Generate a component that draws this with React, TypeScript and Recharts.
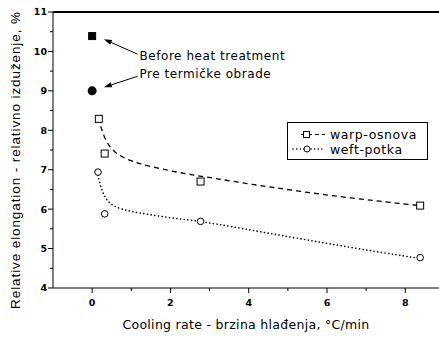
import React from 'react';
import {
  ComposedChart, Line, Scatter, XAxis, YAxis, ReferenceLine, ReferenceDot, Legend,
} from 'recharts';

// Measured points
const warpRate = [0.17, 0.32, 2.77, 8.38];
const warpElong = [8.29, 7.41, 6.7, 6.09];
const weftRate = [0.15, 0.32, 2.77, 8.38];
const weftElong = [6.94, 5.88, 5.69, 4.77];

// Before heat treatment points
const beforeWarpRate = [0];
const beforeWarpElong = [10.39];
const beforeWeftRate = [0];
const beforeWeftElong = [9.0];

// Fitted curves
const warpFitRate = [0.22, 0.3, 0.4, 0.55, 0.75, 1.0, 1.4, 2.0, 2.6, 3.2, 4.0, 5.3, 6.6, 7.9, 8.38];
const warpFitElong = [8.1, 7.85, 7.65, 7.47, 7.33, 7.22, 7.1, 6.97, 6.86, 6.77, 6.64, 6.45, 6.28, 6.14, 6.09];
const weftFitRate = [0.15, 0.2, 0.26, 0.33, 0.42, 0.55, 0.75, 1.0, 1.4, 2.0, 2.6, 3.2, 4.0, 5.3, 6.6, 7.9, 8.38];
const weftFitElong = [6.86, 6.64, 6.45, 6.3, 6.18, 6.08, 6.0, 5.94, 5.87, 5.78, 5.71, 5.62, 5.48, 5.25, 5.03, 4.82, 4.75];

// Axis ticks
const xTicks = [0, 1, 2, 3, 4, 5, 6, 7, 8, 9];
const yTicks = [4, 4.5, 5, 5.5, 6, 6.5, 7, 7.5, 8, 8.5, 9, 9.5, 10, 10.5, 11];

// Annotations
const noteTexts = ['Before heat treatment', 'Pre termičke obrade'];
const noteX = [1.21, 1.21];
const noteY = [9.9, 9.44];
const arrowFromX = [1.16, 1.16];
const arrowFromY = [9.93, 9.37];
const arrowToX = [0.3, 0.3];
const arrowToY = [10.31, 9.09];

const legendNames = ['warp-osnova', 'weft-potka'];

const zip = (xs: number[], ys: number[]) => xs.map((x, i) => ({ x, y: ys[i] }));

const warpData = zip(warpRate, warpElong);
const weftData = zip(weftRate, weftElong);
const beforeWarp = zip(beforeWarpRate, beforeWarpElong);
const beforeWeft = zip(beforeWeftRate, beforeWeftElong);
const warpFit = zip(warpFitRate, warpFitElong);
const weftFit = zip(weftFitRate, weftFitElong);

const TICK_FONT = '"DejaVu Sans", sans-serif';
const TEXT_FONT = '"DejaVu Sans", sans-serif';

const OpenSquare = (p: any) => (
  <rect x={p.cx - 3.5} y={p.cy - 3.5} width={7} height={7} fill="#fff" stroke="#000" strokeWidth={1} />
);
const OpenCircle = (p: any) => (
  <circle cx={p.cx} cy={p.cy} r={3.3} fill="#fff" stroke="#000" strokeWidth={1} />
);
const FilledSquare = (p: any) => (
  <rect x={p.cx - 3.5} y={p.cy - 3.5} width={7} height={7} fill="#000" stroke="#000" />
);
const FilledCircle = (p: any) => <circle cx={p.cx} cy={p.cy} r={4.5} fill="#000" />;

const YTick = (p: any) => {
  const v = p.payload.value;
  const major = Number.isInteger(v);
  return (
    <g>
      <line x1={p.x} x2={p.x - (major ? 5 : 3)} y1={p.y} y2={p.y} stroke="#000" strokeWidth={1} />
      {major && (
        <text x={p.x - 6} y={p.y} dy="0.36em" textAnchor="end" fontFamily={TICK_FONT} fontSize={9.5} fontWeight="bold" fill="#000">
          {v}
        </text>
      )}
    </g>
  );
};

const XTick = (p: any) => {
  const v = p.payload.value;
  const major = v % 2 === 0;
  return (
    <g>
      <line x1={p.x} x2={p.x} y1={p.y} y2={p.y + (major ? 5 : 3)} stroke="#000" strokeWidth={1} />
      {major && (
        <text x={p.x} y={p.y + 18} textAnchor="middle" fontFamily={TICK_FONT} fontSize={9.5} fontWeight="bold" fill="#000">
          {v}
        </text>
      )}
    </g>
  );
};

const Arrow = (p: any) => {
  const { x1, y1, x2, y2 } = p;
  const a = Math.atan2(y2 - y1, x2 - x1);
  const L = 8;
  const W = 2.6;
  const bx = x2 - L * Math.cos(a);
  const by = y2 - L * Math.sin(a);
  const px = -Math.sin(a) * W;
  const py = Math.cos(a) * W;
  return (
    <g>
      <line x1={x1} y1={y1} x2={bx} y2={by} stroke="#000" strokeWidth={1} />
      <polygon points={`${x2},${y2} ${bx + px},${by + py} ${bx - px},${by - py}`} fill="#000" />
    </g>
  );
};

const LegendBox = () => (
  <svg width={141} height={38} style={{ display: 'block' }}>
    <rect x={0.5} y={0.5} width={140} height={37} fill="#fff" stroke="#000" strokeWidth={1} />
    <line x1={14} x2={38} y1={12.5} y2={12.5} stroke="#000" strokeWidth={1.2} strokeDasharray="4 3" />
    <rect x={16.5} y={9.5} width={6} height={6} fill="#fff" stroke="#000" />
    <text x={43} y={12.5} dy="0.36em" fontFamily={TEXT_FONT} fontSize={12.5} letterSpacing={0.6} fill="#000">
      {legendNames[0]}
    </text>
    <line x1={6} x2={38} y1={27} y2={27} stroke="#000" strokeWidth={1.5} strokeDasharray="0.1 3.5" strokeLinecap="round" />
    <circle cx={20} cy={27} r={3} fill="#fff" stroke="#000" />
    <text x={43} y={27} dy="0.36em" fontFamily={TEXT_FONT} fontSize={12.5} letterSpacing={0.6} fill="#000">
      {legendNames[1]}
    </text>
  </svg>
);

export default function App() {
  return (
    <div style={{ position: 'absolute', left: 0, top: 0, width: 439, height: 340, overflow: 'hidden', background: '#fff' }}>
      <ComposedChart width={470} height={340} margin={{ top: 12, right: 6, bottom: 32, left: 23 }}>
        <XAxis
          type="number"
          dataKey="x"
          domain={[-1, 9.5]}
          ticks={xTicks}
          interval={0}
          allowDataOverflow
          height={20}
          tickSize={0}
          tickMargin={0}
          tickLine={false}
          tick={<XTick />}
          axisLine={{ stroke: '#000', strokeWidth: 1 }}
          label={{
            content: (lp: any) => (
              <text
                x={lp.viewBox.x + 193}
                y={340 - 11}
                textAnchor="middle"
                fontFamily='"DejaVu Sans", sans-serif'
                fontSize={12.5}
                letterSpacing={0.3}
                fill="#000"
              >
                Cooling rate - brzina hlađenja, °C/min
              </text>
            ),
          }}
        />
        <YAxis
          type="number"
          domain={[4, 11]}
          ticks={yTicks}
          interval={0}
          allowDataOverflow
          width={30}
          tickSize={0}
          tickMargin={0}
          tickLine={false}
          tick={<YTick />}
          axisLine={{ stroke: '#000', strokeWidth: 1 }}
          label={{
            content: (lp: any) => (
              <text
                transform={`translate(20, ${lp.viewBox.y + lp.viewBox.height / 2 + 10}) rotate(-90)`}
                textAnchor="middle"
                fontFamily='"Liberation Sans", Arial, sans-serif'
                fontSize={13.5}
                letterSpacing={0.9}
                fill="#000"
              >
                Relative elongation - relativno izduženje, %
              </text>
            ),
          }}
        />
        <Line data={warpFit} dataKey="y" type="basis" stroke="#000" strokeWidth={1.3} strokeDasharray="5 4" dot={false} activeDot={false} isAnimationActive={false} />
        <Line data={weftFit} dataKey="y" type="basis" stroke="#000" strokeWidth={1.6} strokeDasharray="0.1 3.6" strokeLinecap="round" dot={false} activeDot={false} isAnimationActive={false} />
        <Scatter data={warpData} dataKey="y" shape={<OpenSquare />} isAnimationActive={false} />
        <Scatter data={weftData} dataKey="y" shape={<OpenCircle />} isAnimationActive={false} />
        <Scatter data={beforeWarp} dataKey="y" shape={<FilledSquare />} isAnimationActive={false} />
        <Scatter data={beforeWeft} dataKey="y" shape={<FilledCircle />} isAnimationActive={false} />
        {noteTexts.map((t, i) => (
          <ReferenceLine
            key={'arrow' + i}
            segment={[
              { x: arrowFromX[i], y: arrowFromY[i] },
              { x: arrowToX[i], y: arrowToY[i] },
            ]}
            shape={<Arrow />}
          />
        ))}
        {noteTexts.map((t, i) => (
          <ReferenceDot
            key={'note' + i}
            x={noteX[i]}
            y={noteY[i]}
            r={0}
            fill="none"
            stroke="none"
            label={{
              content: (lp: any) => (
                <text
                  x={lp.viewBox.x}
                  y={lp.viewBox.y}
                  dy="0.36em"
                  fontFamily={TEXT_FONT}
                  fontSize={12}
                  letterSpacing={0.55}
                  fill="#000"
                >
                  {t}
                </text>
              ),
            }}
          />
        ))}
        <Legend
          layout="horizontal"
          verticalAlign="middle"
          align="center"
          content={() => <LegendBox />}
          wrapperStyle={{ position: 'absolute', left: 287, top: 122, width: 141, height: 38 }}
        />
      </ComposedChart>
      <div style={{ position: 'absolute', left: 53, top: 11, width: 400, height: 1.5, background: '#000', zIndex: 5 }} />
    </div>
  );
}
